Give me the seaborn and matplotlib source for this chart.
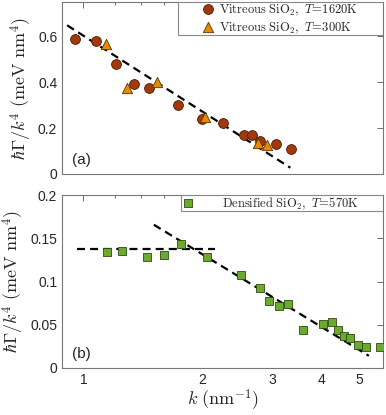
import seaborn as sns
import pandas as pd
import matplotlib.pyplot as plt
import numpy as np
from matplotlib.patches import Rectangle
from matplotlib.ticker import FixedLocator, NullFormatter

# vitreous SiO2, T=1620K
k_1620 = [0.954, 1.077, 1.21, 1.343, 1.466, 1.733, 1.994, 2.254, 2.545, 2.67, 2.806, 3.08, 3.35]
g_1620 = [0.587, 0.581, 0.478, 0.394, 0.377, 0.299, 0.240, 0.222, 0.168, 0.168, 0.145, 0.129, 0.109]
# vitreous SiO2, T=300K
k_300 = [1.141, 1.292, 1.536, 2.03, 2.76, 2.92]
g_300 = [0.568, 0.374, 0.401, 0.248, 0.136, 0.125]
# densified SiO2, T=570K
k_570 = [1.148, 1.253, 1.444, 1.603, 1.767, 2.05, 2.512, 2.794, 2.952, 3.12, 3.29,
         3.59, 4.04, 4.26, 4.42, 4.57, 4.74, 4.95, 5.2, 5.65]
g_570 = [0.1338, 0.135, 0.128, 0.131, 0.143, 0.128, 0.107, 0.0928, 0.077, 0.0717, 0.0743,
         0.0436, 0.0505, 0.0532, 0.0436, 0.0366, 0.0347, 0.027, 0.0246, 0.0246]

# dashed guide lines: y = a - b*log10(k) over a k range
fit_a = dict(a=0.603, b=1.10, k=(0.909, 3.34))
fit_b_flat = dict(a=0.138, b=0.0, k=(0.964, 2.15))
fit_b_slope = dict(a=0.2153, b=0.2785, k=(1.507, 5.28))

brown = '#a2390c'
orange = '#e68a00'
green = '#6aab2f'

sns.set_style("white")
plt.rcParams['font.family'] = ['Liberation Sans', 'DejaVu Sans']
plt.rcParams['mathtext.fontset'] = 'cm'

fig = plt.figure(figsize=(3.86, 4.15), dpi=100)
ax1 = fig.add_axes([0.161, 0.581, 0.8325, 0.414])
ax2 = fig.add_axes([0.161, 0.1133, 0.8325, 0.4167])


def fit_df(f):
    kk = np.array(f['k'])
    return pd.DataFrame({'k': kk, 'g': f['a'] - f['b'] * np.log10(kk)})


def guide(ax, f):
    sns.lineplot(data=fit_df(f), x='k', y='g', ax=ax, color='black', lw=1.6,
                 linestyle=(0, (3.6, 2.3)), zorder=2)


d1620 = pd.DataFrame({'k': k_1620, 'g': g_1620})
d300 = pd.DataFrame({'k': k_300, 'g': g_300})
d570 = pd.DataFrame({'k': k_570, 'g': g_570})

guide(ax1, fit_a)
sns.scatterplot(data=d1620, x='k', y='g', ax=ax1, marker='o', s=50, color=brown,
                edgecolor='#4a1a05', linewidth=0.6, zorder=3,
                label=r'$\mathrm{Vitreous\ SiO_2},\ T\!=\!1620\mathrm{K}$')
sns.scatterplot(data=d300, x='k', y='g', ax=ax1, marker='^', s=55, color=orange,
                edgecolor='#5a3300', linewidth=0.6, zorder=3,
                label=r'$\mathrm{Vitreous\ SiO_2},\ T\!=\!300\mathrm{K}$')

guide(ax2, fit_b_flat)
guide(ax2, fit_b_slope)
sns.scatterplot(data=d570, x='k', y='g', ax=ax2, marker='s', s=32, color=green,
                edgecolor='#2f4a12', linewidth=0.6, zorder=3,
                label=r'$\mathrm{Densified\ SiO_2},\ T\!=\!570\mathrm{K}$')

majors = [1, 2, 3, 4, 5]
minors = [v for v in np.round(np.arange(1.2, 5.8, 0.2), 1) if v not in majors]

for ax, ylim, yt, tag in [(ax1, (0, 0.75), [0, 0.2, 0.4, 0.6], '(a)'),
                          (ax2, (0, 0.2), [0, 0.05, 0.1, 0.15, 0.2], '(b)')]:
    ax.set_xscale('log')
    ax.set_xlim(0.883, 5.75)
    ax.set_ylim(*ylim)
    ax.xaxis.set_major_locator(FixedLocator(majors))
    ax.xaxis.set_minor_locator(FixedLocator(minors))
    ax.xaxis.set_minor_formatter(NullFormatter())
    ax.set_yticks(yt)
    ax.set_yticklabels([f'{v:g}' for v in yt])
    ax.tick_params(which='both', direction='in', top=True, right=True,
                   labelsize=10, color='#555555', width=0.6)
    ax.tick_params(which='major', length=4)
    ax.tick_params(which='minor', length=2)
    for sp in ax.spines.values():
        sp.set_color('#777777')
        sp.set_linewidth(0.8)
    ax.set_ylabel(r'$\hbar\Gamma/k^4\ (\mathrm{meV\ nm}^4)$', fontsize=13, labelpad=3)
    ax.text(0.03, 0.06, tag, transform=ax.transAxes, fontsize=11)

# legends: MATLAB-like boxes hugging the upper right corner
leg1 = ax1.legend(loc='upper right', bbox_to_anchor=(0.921, 0.995), borderaxespad=0,
                  borderpad=0, fontsize=9, frameon=False, handletextpad=0.4,
                  labelspacing=0.2, handlelength=1.0, scatteryoffsets=[0.5])
ax1.add_patch(Rectangle((0.361, 0.81), 0.639, 0.19, transform=ax1.transAxes,
                        facecolor='white', edgecolor='#888888', lw=0.8, zorder=4))
leg1.set_zorder(5)

leg2 = ax2.legend(loc='upper right', bbox_to_anchor=(0.921, 0.995), borderaxespad=0,
                  borderpad=0, fontsize=9, frameon=False, handletextpad=2.2,
                  handlelength=1.0, scatteryoffsets=[0.5])
ax2.add_patch(Rectangle((0.370, 0.9075), 0.630, 0.0925, transform=ax2.transAxes,
                        facecolor='white', edgecolor='#888888', lw=0.8, zorder=4))
leg2.set_zorder(5)

ax1.set_xticklabels([])
ax1.set_xlabel('')
ax2.set_xticklabels([str(v) for v in majors])
ax2.set_xlabel(r'$k\ (\mathrm{nm}^{-1})$', fontsize=13, labelpad=1)

plt.savefig('out.png', dpi=100)
